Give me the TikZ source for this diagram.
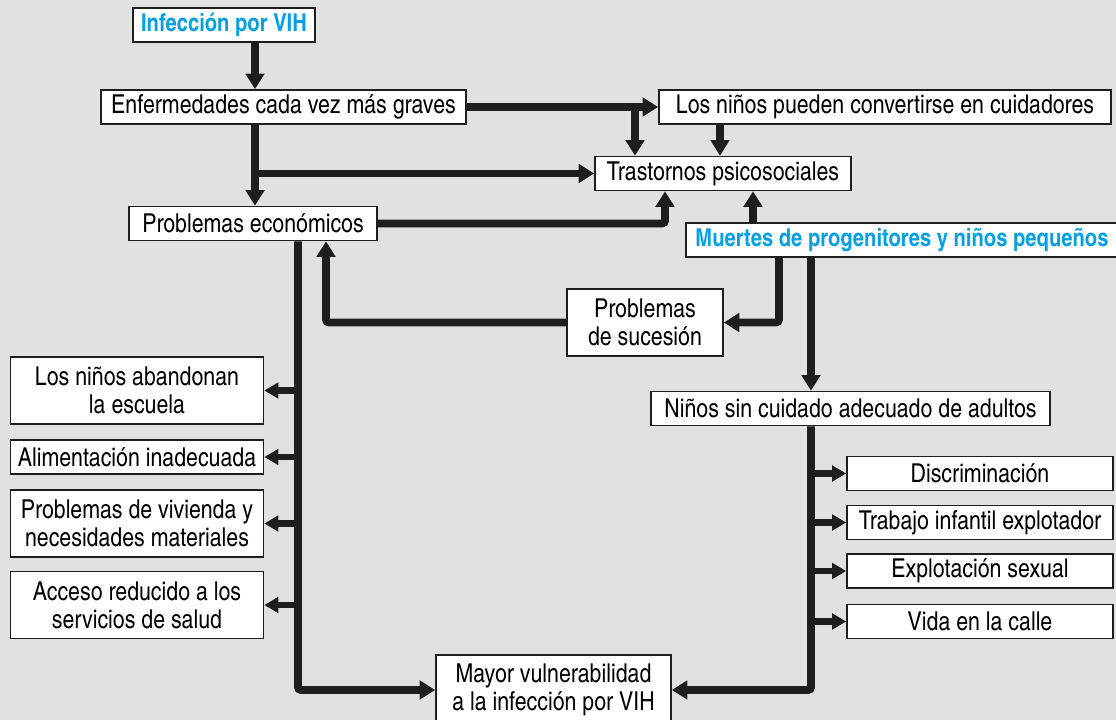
\documentclass[tikz,border=0pt]{standalone}
\usepackage{fontspec}
\setmainfont{texgyreheroscn-regular.otf}[BoldFont=texgyreheroscn-bold.otf]
\usetikzlibrary{arrows.meta, positioning}
\definecolor{fondo}{RGB}{225,225,225}
\definecolor{azulvih}{RGB}{0,160,225}
\definecolor{linea}{RGB}{30,30,28}
\newcommand\pix{0.025cm}
\tikzset{
    caja/.style={draw=linea, fill=white, line width=1.2pt, inner sep=1pt, minimum height=34*\pix, align=center},
    cajaazul/.style={caja, text=azulvih, font=\fontsize{17.5}{20}\selectfont\bfseries},
    flecha/.style={draw=linea, line width=5.5pt, rounded corners=2pt, -{Triangle[width=13pt, length=11pt]}},
    rama/.style={flecha, line width=4.5pt, -{Triangle[width=11pt, length=10pt]}},
}
\begin{document}
\begin{tikzpicture}[x=0.025cm, y=-0.025cm, font=\fontsize{18.5}{20}\selectfont]
    \clip (0,0) rectangle (1116,720);
    \fill[fondo] (0,0) rectangle (1116,720);

    % cajas de arriba
    \node[cajaazul, minimum width=182*\pix] (inf) at (224,25) {Infección por VIH};
    \node[caja, minimum width=365*\pix] (enf) at (283.5,107) {Enfermedades cada vez más graves};
    \node[caja, minimum width=452*\pix] (cuid) at (885,107) {Los niños pueden convertirse en cuidadores};
    \node[caja, minimum width=256*\pix] (tras) at (723,173.5) {Trastornos psicosociales};
    \node[caja, minimum width=248*\pix] (eco) at (253,223.5) {Problemas económicos};
    \node[cajaazul, minimum width=432*\pix] (muer) at (902,240) {Muertes de progenitores y niños pequeños};
    \node[caja, minimum width=156*\pix, minimum height=67*\pix] (suc) at (645,322.5) {Problemas\\de sucesión};
    \node[caja, minimum width=399*\pix] (nsc) at (850.5,408.5) {Niños sin cuidado adecuado de adultos};

    % columna izquierda
    \node[caja, minimum width=253*\pix, minimum height=67*\pix] (esc) at (137,390.5) {Los niños abandonan\\la escuela};
    \node[caja, minimum width=253*\pix] (ali) at (137,457) {Alimentación inadecuada};
    \node[caja, minimum width=253*\pix, minimum height=67*\pix] (viv) at (137,523.5) {Problemas de vivienda y\\necesidades materiales};
    \node[caja, minimum width=253*\pix, minimum height=67*\pix] (sal) at (137,605) {Acceso reducido a los\\servicios de salud};

    % columna derecha
    \node[caja, minimum width=266*\pix] (dis) at (980,473.5) {Discriminación};
    \node[caja, minimum width=266*\pix] (tra) at (980,522.5) {Trabajo infantil explotador};
    \node[caja, minimum width=266*\pix] (sex) at (980,571) {Explotación sexual};
    \node[caja, minimum width=266*\pix] (cal) at (980,621.5) {Vida en la calle};

    \node[caja, minimum width=235*\pix, minimum height=70*\pix] (may) at (553.5,690) {Mayor vulnerabilidad\\a la infección por VIH};

    % ejes verticales
    \coordinate (ejeinf) at (255,0);
    \coordinate (ejecuid) at (635,0);
    \coordinate (ejetras) at (720,0);
    \coordinate (ejeeco) at (665,0);
    \coordinate (ejemuer) at (753,0);
    \coordinate (ejesuc) at (779,0);
    \coordinate (ejensc) at (811,0);
    \coordinate (ejeizq) at (298,0);
    \coordinate (ejeret) at (326,0);

    \draw[flecha] (inf.south -| ejeinf) -- (enf.north -| ejeinf);
    \draw[flecha] (enf.south -| ejeinf) -- (eco.north -| ejeinf);
    \draw[flecha] (tras.west -| ejeinf) -- (tras.west);
    \draw[flecha] (enf.east) -- (cuid.west);
    \draw[flecha] (enf.east -| ejecuid) -- (tras.north -| ejecuid);
    \draw[flecha] (cuid.south -| ejetras) -- (tras.north -| ejetras);
    \draw[flecha] (eco.east) -| (tras.south -| ejeeco);
    \draw[flecha] (muer.north -| ejemuer) -- (tras.south -| ejemuer);
    \draw[flecha] (muer.south -| ejesuc) |- (suc.east);
    \draw[flecha] (muer.south -| ejensc) -- (nsc.north -| ejensc);
    \draw[flecha] (suc.west) -| (eco.south -| ejeret);
    \draw[flecha] (eco.south -| ejeizq) |- (may.west);
    \draw[flecha] (nsc.south -| ejensc) |- (may.east);
    \foreach \c in {esc,ali,viv,sal}
        \draw[rama] (\c.east -| ejeizq) -- (\c.east);
    \foreach \c in {dis,tra,sex,cal}
        \draw[rama] (\c.west -| ejensc) -- (\c.west);
\end{tikzpicture}
\end{document}
